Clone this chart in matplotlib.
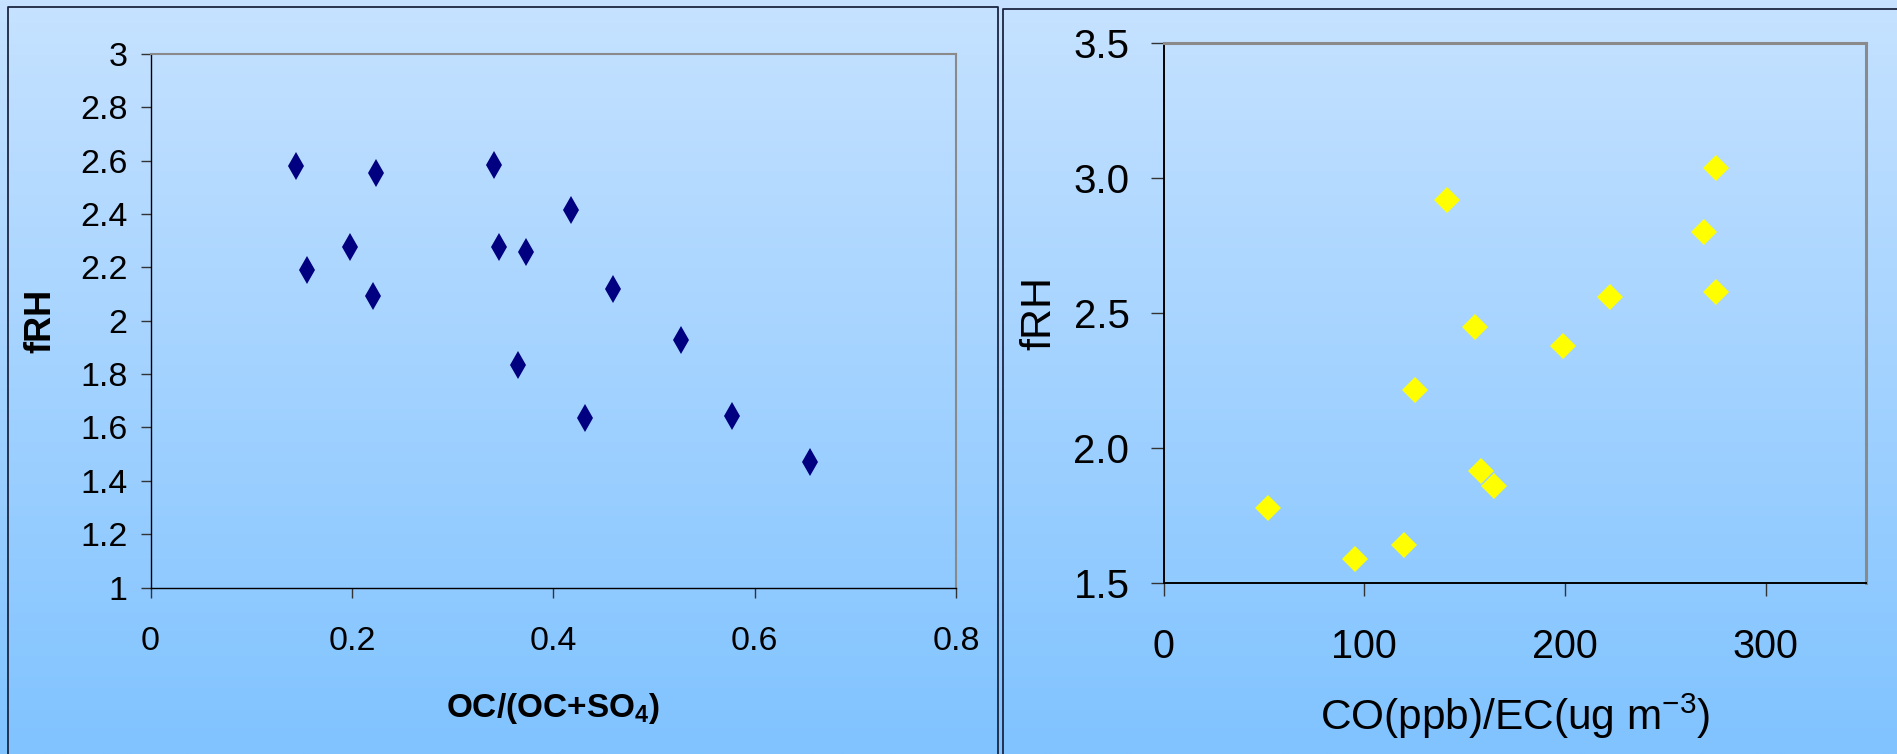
import numpy as np
import matplotlib
matplotlib.use('Agg')
import matplotlib.pyplot as plt
from matplotlib.lines import Line2D

# panneau gauche : fRH vs OC/(OC+SO4)
oc_ratio = [0.145, 0.155, 0.198, 0.224, 0.221, 0.341, 0.346, 0.373, 0.365,
            0.418, 0.432, 0.459, 0.527, 0.578, 0.655]
frh_oc = [2.58, 2.19, 2.276, 2.555, 2.092, 2.582, 2.276, 2.256, 1.832,
          2.413, 1.634, 2.119, 1.928, 1.641, 1.472]

# panneau droit : fRH vs CO/EC
co_ec = [51.9, 95.5, 120.0, 125.5, 141.3, 155.2, 158.4, 164.7, 198.8,
         222.4, 269.1, 275.5, 275.5]
frh_co = [1.778, 1.587, 1.641, 2.215, 2.916, 2.447, 1.915, 1.858, 2.375,
          2.559, 2.797, 3.036, 2.575]

left_xticks = [0, 0.2, 0.4, 0.6, 0.8]
left_yticks = [1, 1.2, 1.4, 1.6, 1.8, 2, 2.2, 2.4, 2.6, 2.8, 3]
right_xticks = [0, 100, 200, 300]
right_yticks = [1.5, 2.0, 2.5, 3.0, 3.5]

plt.rcParams['font.family'] = ['Liberation Sans', 'DejaVu Sans']
plt.rcParams['mathtext.fontset'] = 'custom'
plt.rcParams['mathtext.rm'] = 'Liberation Sans'
plt.rcParams['mathtext.it'] = 'Liberation Sans'
plt.rcParams['mathtext.bf'] = 'Liberation Sans:bold'

W, H = 1897, 754
fig = plt.figure(figsize=(W / 100, H / 100), dpi=100)

# fond en dégradé
bg = fig.add_axes([0, 0, 1, 1], zorder=-10)
top = np.array([198, 226, 255]) / 255
bot = np.array([128, 195, 255]) / 255
t = np.linspace(0, 1, 256)[:, None]
grad = (top[None, :] * (1 - t) + bot[None, :] * t)[:, None, :]
bg.imshow(grad, aspect='auto', extent=[0, 1, 0, 1])
bg.set_axis_off()

# cadres des deux panneaux (coordonnées pixels)
def px_line(xs, ys):
    fig.add_artist(Line2D([x / W for x in xs], [1 - y / H for y in ys],
                          color='#1c2540', lw=1.3, transform=fig.transFigure))

px_line([8, 8, 998, 998], [754, 7, 7, 754])
px_line([1002.5, 1002.5, 1897], [754, 8.7, 8.7])


def style_axes(ax, tick_len):
    ax.set_facecolor('none')
    for s in ['top', 'right']:
        ax.spines[s].set_color('#8a8a8a')
        ax.spines[s].set_linewidth(1.5)
    for s in ['left', 'bottom']:
        ax.spines[s].set_color('black')
        ax.spines[s].set_linewidth(1.0)
    ax.tick_params(direction='out', length=tick_len, width=1.0, color='#333333')


# gauche
ax1 = fig.add_axes([150.5 / W, 1 - 587.5 / H, 805.5 / W, 533.7 / H])
style_axes(ax1, 7.5)
ax1.plot(oc_ratio, frh_oc, linestyle='none', marker='d', markersize=14,
         color='#000080', markeredgewidth=0)
ax1.set_xlim(0, 0.8)
ax1.set_ylim(1, 3)
ax1.set_xticks(left_xticks)
ax1.set_xticklabels(['0', '0.2', '0.4', '0.6', '0.8'])
ax1.set_yticks(left_yticks)
ax1.set_yticklabels(['1', '1.2', '1.4', '1.6', '1.8', '2', '2.2', '2.4', '2.6', '2.8', '3'])
ax1.tick_params(axis='y', labelsize=24.5, pad=9)
ax1.tick_params(axis='x', labelsize=24.5, pad=20)
ax1.set_xlabel(r'OC/(OC+SO$_\mathbf{4}$)', fontsize=24, fontweight='bold', va='baseline')
ax1.xaxis.set_label_coords(0.5, -0.242)
ax1.set_ylabel('fRH', fontsize=26, fontweight='bold', va='center')
ax1.yaxis.set_label_coords(-0.136, 0.5)

# droite
ax2 = fig.add_axes([1163.5 / W, 1 - 582.7 / H, 702.5 / W, 540.2 / H])
style_axes(ax2, 9.5)
ax2.spines['left'].set_linewidth(1.4)
ax2.spines['bottom'].set_linewidth(1.4)
ax2.spines['top'].set_linewidth(2.2)
ax2.spines['right'].set_linewidth(2.2)
ax2.plot(co_ec, frh_co, linestyle='none', marker='D', markersize=13.5,
         color='#ffff00', markeredgewidth=0)
ax2.set_xlim(0, 350)
ax2.set_ylim(1.5, 3.5)
ax2.set_xticks(right_xticks)
ax2.set_yticks(right_yticks)
ax2.set_yticklabels(['%.1f' % v for v in right_yticks])
ax2.tick_params(axis='y', labelsize=29, pad=15)
ax2.tick_params(axis='x', labelsize=28.5, pad=23)
ax2.set_xlabel(r'CO(ppb)/EC(ug m$^{-3}$)', fontsize=30.5, va='baseline')
ax2.xaxis.set_label_coords(0.5, -0.2727)
ax2.set_ylabel('fRH', fontsize=31, va='center')
ax2.yaxis.set_label_coords(-0.177, 0.5)

fig.savefig('out.png', dpi=100)
